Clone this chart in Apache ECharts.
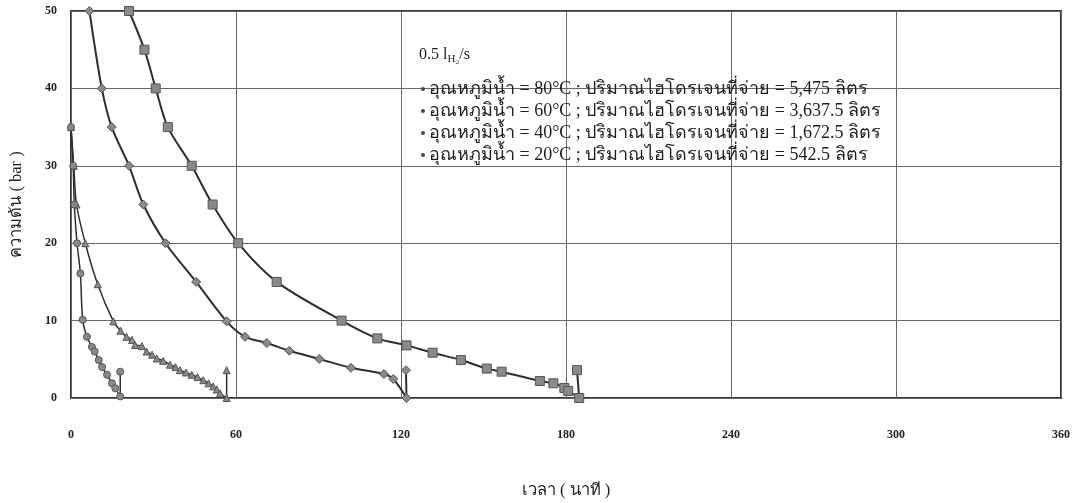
<!DOCTYPE html>
<html>
<head>
<meta charset="utf-8">
<script src="https://cdn.jsdelivr.net/npm/echarts@6/dist/echarts.min.js"></script>
<style>
  html, body { margin: 0; padding: 0; background: #fff; }
  #chart { width: 1075px; height: 503px; }
</style>
</head>
<body>
<div id="chart"></div>
<script>
// readings: [time (min), pressure (bar)]
const water80 = [[21.1, 50], [26.7, 45], [30.8, 40], [35.2, 35], [43.9, 30], [51.5, 25], [60.8, 20], [74.8, 15],
  [98.4, 10], [111.4, 7.7], [122, 6.8], [131.5, 5.85], [141.8, 4.9], [151.2, 3.8], [156.6, 3.4], [170.5, 2.2],
  [175.4, 1.9], [179.4, 1.3], [180.8, 0.9], [184.8, 0], [184, 3.6]]
const water60 = [[6.7, 50], [11.2, 40], [14.8, 35], [21.1, 30], [26.3, 25], [34.4, 20], [45.5, 15], [56.6, 9.9],
  [63.3, 7.9], [71.2, 7.1], [79.4, 6.1], [90.3, 5.05], [101.8, 3.9], [113.8, 3.1], [117.2, 2.45], [122, 0], [121.8, 3.6]]
const water40 = [[0, 35], [1, 30], [2, 25], [5.2, 20], [9.7, 14.7], [15.4, 9.9], [18, 8.7], [20.2, 7.9], [22.2, 7.5],
  [23.3, 6.85], [25.8, 6.7], [27.5, 6.0], [29.5, 5.6], [31.2, 5.1], [33.5, 4.8], [36, 4.3], [38, 4.0], [39.6, 3.6],
  [41.8, 3.3], [43.9, 3.0], [46, 2.7], [48.1, 2.3], [50, 1.9], [51.7, 1.5], [53, 1.1], [54.2, 0.6], [56.6, 0], [56.6, 3.6]]
const water20 = [[0, 35], [0.8, 30], [1.2, 25], [2.2, 20], [3.4, 16.1], [4.25, 10.1], [5.8, 7.9], [7.6, 6.6],
  [8.6, 6.0], [10.1, 4.9], [11.3, 4.0], [13.1, 3.0], [14.9, 1.9], [16.1, 1.25], [17.9, 0.2], [17.9, 3.4]]

const seriesNames = [
  'อุณหภูมิน้ำ = 80°C ; ปริมาณไฮโดรเจนที่จ่าย = 5,475 ลิตร',
  'อุณหภูมิน้ำ = 60°C ; ปริมาณไฮโดรเจนที่จ่าย = 3,637.5 ลิตร',
  'อุณหภูมิน้ำ = 40°C ; ปริมาณไฮโดรเจนที่จ่าย = 1,672.5 ลิตร',
  'อุณหภูมิน้ำ = 20°C ; ปริมาณไฮโดรเจนที่จ่าย = 542.5 ลิตร'
]
const seriesData = [water80, water60, water40, water20]
const symbols = ['rect', 'diamond', 'triangle', 'circle']
const symbolSizes = [9, 9, 7, 7]

const xTicks = { min: 0, max: 360, interval: 60 }
const yTicks = { min: 0, max: 50, interval: 10 }

const serif = '"Liberation Serif", "DejaVu Serif", serif'

const chart = echarts.init(document.getElementById('chart'))

const series = seriesData.map((d, i) => ({
  name: seriesNames[i],
  type: 'line',
  data: d,
  smooth: 0.3,
  symbol: symbols[i],
  symbolSize: symbolSizes[i],
  showAllSymbol: true,
  animation: false,
  lineStyle: { color: '#2e2e2e', width: i < 2 ? 2 : 1.5 },
  itemStyle: { color: '#8a8a8a', borderColor: '#555', borderWidth: 1 },
  z: 3
}))

chart.setOption({
  backgroundColor: '#fff',
  animation: false,
  grid: {
    left: 71, right: 14, top: 11, bottom: 105,
    outerBoundsMode: 'none',
    containLabel: false,
    show: true, borderColor: '#333', borderWidth: 2, backgroundColor: 'transparent'
  },
  legend: {
    orient: 'vertical',
    left: 416,
    top: 75,
    itemGap: 4,
    itemWidth: 4,
    itemHeight: 4,
    icon: 'circle',
    itemStyle: { color: '#444', borderWidth: 0 },
    selectedMode: false,
    textStyle: { fontFamily: serif, fontSize: 18, color: '#1e1e1e', padding: [0, 0, 0, -1] },
    data: seriesNames
  },
  graphic: [{
    type: 'text',
    left: 419,
    top: 47,
    style: {
      text: '0.5 l{sub|H₂}/s',
      font: '16px ' + serif,
      fill: '#1e1e1e',
      rich: { sub: { fontSize: 11, fontFamily: serif, fill: '#1e1e1e', padding: [9, 0, 0, 0] } }
    }
  }],
  xAxis: {
    type: 'value',
    min: xTicks.min, max: xTicks.max, interval: xTicks.interval,
    name: 'เวลา ( นาที )',
    nameLocation: 'middle',
    nameGap: 84,
    nameTextStyle: { fontFamily: serif, fontSize: 16.5, color: '#222' },
    axisLine: { show: false },
    axisTick: { show: false },
    axisLabel: { margin: 31, fontFamily: serif, fontSize: 12, fontWeight: 'bold', color: '#222' },
    splitLine: { show: true, lineStyle: { color: '#666', width: 1 } }
  },
  yAxis: {
    type: 'value',
    min: yTicks.min, max: yTicks.max, interval: yTicks.interval,
    name: 'ความดัน ( bar )',
    nameLocation: 'middle',
    nameGap: 46,
    nameTextStyle: { fontFamily: serif, fontSize: 16.5, color: '#222' },
    axisLine: { show: false },
    axisTick: { show: false },
    axisLabel: { margin: 14, fontFamily: serif, fontSize: 12, fontWeight: 'bold', color: '#222' },
    splitLine: { show: true, lineStyle: { color: '#666', width: 1 } }
  },
  series: series
})
</script>
</body>
</html>
